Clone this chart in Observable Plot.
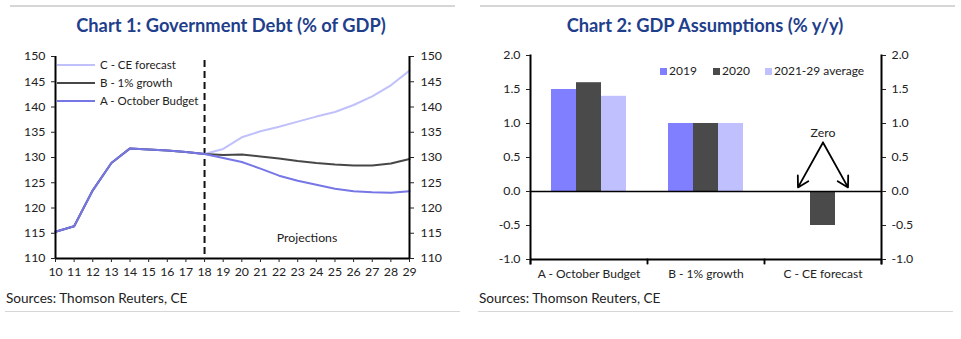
<!DOCTYPE html>
<html><head><meta charset="utf-8">
<script src="https://cdn.jsdelivr.net/npm/d3@7"></script>
<script src="https://cdn.jsdelivr.net/npm/@observablehq/plot@0.6"></script>
<style>
body{margin:0;background:#fff;font-family:Lato,"Open Sans",sans-serif;}
#wrap{position:relative;width:961px;height:339px;overflow:hidden;background:#fff}
.rule{position:absolute;height:0;border-top:2px solid #d6d6d6}
.title{position:absolute;font-weight:700;font-size:18.3px;line-height:22px;color:#1f3f8c;text-align:center;white-space:nowrap}
.src{position:absolute;font-size:13.6px;line-height:16px;color:#222;white-space:nowrap}
.chart{position:absolute}
.leg{position:absolute;font-size:11.5px;line-height:14px;color:#222;white-space:nowrap}
.lswatch{position:absolute;height:0;border-top:2px solid}
.sq{position:absolute;width:7px;height:7px}
</style></head><body>
<div id="wrap">
  <div class="rule" style="left:10px;top:5px;width:445px"></div>
  <div class="rule" style="left:480px;top:5px;width:475px"></div>
  <div class="title" style="left:0;top:14px;width:462px">Chart 1: Government Debt (% of GDP)</div>
  <div class="title" style="left:470px;top:14px;width:470px">Chart 2: GDP Assumptions (% y/y)</div>
  <div id="left" class="chart" style="left:0;top:40px"></div>
  <div id="right" class="chart" style="left:470px;top:40px"></div>
  <div id="legL"></div>
  <div id="legR"></div>
  <div class="src" style="left:6px;top:290px">Sources: Thomson Reuters, CE</div>
  <div class="src" style="left:479px;top:290px">Sources: Thomson Reuters, CE</div>
  <div class="rule" style="left:5px;top:311px;width:455px;border-top-width:1px"></div>
  <div class="rule" style="left:478px;top:311px;width:475px;border-top-width:1px"></div>
</div>
<script>
// ---------- Chart 1 data ----------
const years = [2010,2011,2012,2013,2014,2015,2016,2017,2018,2019,2020,2021,2022,2023,2024,2025,2026,2027,2028,2029];
const debtA = [115.3,116.4,123.5,128.9,131.8,131.6,131.4,131.1,130.7,129.9,129.1,127.8,126.4,125.4,124.6,123.8,123.3,123.1,123.0,123.3];
const debtB = [115.3,116.4,123.5,128.9,131.8,131.6,131.4,131.1,130.7,130.5,130.6,130.2,129.8,129.3,128.9,128.6,128.4,128.4,128.8,129.7];
const debtC = [115.3,116.4,123.5,128.9,131.8,131.6,131.4,131.1,130.7,131.7,134.0,135.2,136.1,137.1,138.1,139.0,140.4,142.1,144.3,147.2];
const lineNames = ["C - CE forecast","B - 1% growth","A - October Budget"];
const lineColors = ["#c0c0fb","#474747","#7676e6"];
const debtTicks = [110,115,120,125,130,135,140,145,150];
const projectionYear = 2018;
const projNote = [{year:2023.5, value:114, text:"Projections"}];

// ---------- Chart 2 data ----------
const scenarios = ["A - October Budget","B - 1% growth","C - CE forecast"];
const periods = ["2019","2020","2021-29 average"];
const g2019 = [1.5,1.0,0];
const g2020 = [1.6,1.0,-0.5];
const gAvg = [1.4,1.0,0];
const barColors = ["#7f7fff","#4a4a4a","#c0c0ff"];
const gdpTicks = [-1,-0.5,0,0.5,1,1.5,2];
const zeroNote = [{scenario:"C - CE forecast", period:"2020", value:0.86, text:"Zero"}];
const zeroArrows = [
  {scenario:"C - CE forecast", from:"2020", to:"2019", y1:0.72, y2:0.06},
  {scenario:"C - CE forecast", from:"2020", to:"2021-29 average", y1:0.72, y2:0.06}
];

const font = "Lato, 'Open Sans', sans-serif";

// ---------- Chart 1 ----------
const debtSeries = [debtC, debtB, debtA];
const debtTable = lineNames.flatMap((name, s) => years.map((yr, i) => ({series:name, year:yr, value:debtSeries[s][i]})));

const left = Plot.plot({
  width:460, height:250,
  marginTop:16, marginRight:51, marginBottom:32, marginLeft:55,
  style:{fontFamily:font, fontSize:"12px", color:"#222", background:"transparent"},
  x:{domain:[years[0], years[years.length-1]], axis:null},
  y:{domain:[110,150], axis:null},
  color:{domain:lineNames, range:lineColors},
  marks:[
    Plot.ruleX([projectionYear], {stroke:"#111", strokeWidth:2, strokeDasharray:"7,4", insetTop:4}),
    Plot.lineY(debtTable, {x:"year", y:"value", z:"series", stroke:"series", strokeWidth:2}),
    Plot.ruleX([years[0], years[years.length-1]], {stroke:"#000", strokeWidth:2}),
    Plot.ruleY([110], {stroke:"#000", strokeWidth:2}),
    Plot.axisY({anchor:"left", ticks:debtTicks, tickSize:4, tickPadding:6, label:null, fontSize:12.3}),
    Plot.axisY({anchor:"right", ticks:debtTicks, tickSize:4, tickPadding:7, label:null, fontSize:12.3}),
    Plot.axisX({anchor:"bottom", ticks:years, tickSize:4, tickPadding:5, label:null, fontSize:12.3,
      tickFormat:d => String(d).slice(2)}),
    Plot.text(projNote, {x:"year", y:"value", text:"text", fontSize:12.3, fill:"#222"})
  ]
});
document.getElementById("left").append(left);

// left legend (HTML)
const legL = document.getElementById("legL");
lineNames.forEach((name, i) => {
  const y = 65 + i*18;
  const sw = document.createElement("div");
  sw.className = "lswatch";
  sw.style.cssText = `left:57px;top:${y-1}px;width:38px;border-top-color:${lineColors[i]}`;
  legL.append(sw);
  const t = document.createElement("div");
  t.className = "leg";
  t.style.cssText = `left:100px;top:${y-7}px`;
  t.textContent = name;
  legL.append(t);
});

// ---------- Chart 2 ----------
const gdpSeries = [g2019, g2020, gAvg];
const bars = scenarios.flatMap((sc, i) => periods.map((p, j) => ({scenario:sc, period:p, value:gdpSeries[j][i]})));
const innerH = 250 - 15 - 31;
const fmt = d => d.toFixed(1);

const right = Plot.plot({
  width:480, height:250,
  marginTop:15, marginRight:68, marginBottom:31, marginLeft:59,
  style:{fontFamily:font, fontSize:"12px", color:"#222", background:"transparent"},
  fx:{domain:scenarios, padding:0, label:null},
  x:{domain:periods, paddingInner:0, paddingOuter:0.76, axis:null},
  y:{domain:[-1,2], axis:null},
  color:{domain:periods, range:barColors},
  marks:[
    Plot.barY(bars, {fx:"scenario", x:"period", y:"value", fill:"period"}),
    Plot.ruleY([0], {stroke:"#000", strokeWidth:1.3}),
    Plot.ruleY([-1], {stroke:"#000", strokeWidth:2}),
    Plot.frame({anchor:"left", facetAnchor:"left", stroke:"#000", strokeWidth:2, insetBottom:-4}),
    Plot.frame({anchor:"right", facetAnchor:"right", stroke:"#000", strokeWidth:2, insetBottom:-4}),
    Plot.frame({anchor:"left", stroke:"#000", strokeWidth:1.5, insetTop:innerH, insetBottom:-4}),
    Plot.frame({anchor:"right", stroke:"#000", strokeWidth:1.5, insetTop:innerH, insetBottom:-4}),
    Plot.axisY({anchor:"left", ticks:gdpTicks, tickFormat:fmt, tickSize:4, tickPadding:6, label:null, fontSize:12.3}),
    Plot.axisY({anchor:"right", ticks:gdpTicks, tickFormat:fmt, tickSize:4, tickPadding:6, label:null, fontSize:12.3}),
    Plot.axisFx({anchor:"bottom", tickSize:0, tickPadding:10, label:null, fontSize:12}),
    Plot.arrow(zeroArrows, {fx:"scenario", x1:"from", y1:"y1", x2:"to", y2:"y2", stroke:"#000", strokeWidth:1.8, headLength:10}),
    Plot.text(zeroNote, {fx:"scenario", x:"period", y:"value", text:"text", fontSize:12.3, fill:"#222"})
  ]
});
document.getElementById("right").append(right);

// right legend (HTML)
const legR = document.getElementById("legR");
const legX = [660, 713, 765];
periods.forEach((p, i) => {
  const sq = document.createElement("div");
  sq.className = "sq";
  sq.style.cssText = `left:${legX[i]}px;top:68px;background:${barColors[i]}`;
  legR.append(sq);
  const t = document.createElement("div");
  t.className = "leg";
  t.style.cssText = `left:${legX[i]+9}px;top:64px;font-size:12px`;
  t.textContent = p;
  legR.append(t);
});
</script>
</body></html>
